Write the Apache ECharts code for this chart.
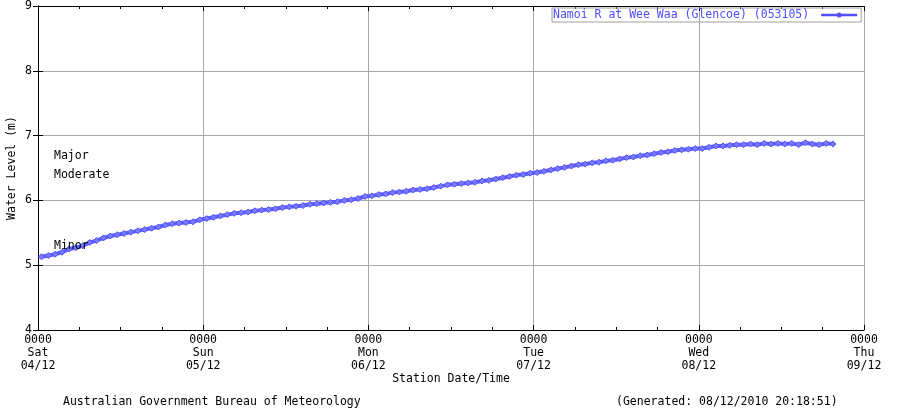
<!DOCTYPE html>
<html>
<head>
<meta charset="utf-8">
<script src="https://cdn.jsdelivr.net/npm/echarts@6/dist/echarts.min.js"></script>
<style>html,body{margin:0;padding:0;background:#fff;}#c{width:904px;height:408px;}</style>
</head>
<body>
<div id="c"></div>
<script>
// ---- data ----
const seriesName = 'Namoi R at Wee Waa (Glencoe) (053105)';
const tickTimes = ['0000','0000','0000','0000','0000','0000'];
const tickDays = ['Sat','Sun','Mon','Tue','Wed','Thu'];
const tickDates = ['04/12','05/12','06/12','07/12','08/12','09/12'];
const yTicks = [4,5,6,7,8,9];
const floodNames = ['Major','Moderate','Minor'];
const floodLevels = [6.69, 6.39, 5.30];
const startHour = 0.5;   // hours after Sat 04/12 0000
const stepHours = 1;     // hourly readings
const waterLevel = [
 5.13,5.15,5.17,5.20,5.25,5.27,5.30,5.35,5.38,5.42,5.45,5.47,
 5.49,5.51,5.53,5.55,5.57,5.59,5.62,5.64,5.65,5.66,5.67,5.70,
 5.72,5.74,5.76,5.78,5.80,5.81,5.82,5.84,5.85,5.86,5.87,5.89,
 5.90,5.91,5.92,5.94,5.95,5.96,5.97,5.98,6.00,6.01,6.03,6.06,
 6.07,6.09,6.10,6.12,6.13,6.14,6.16,6.17,6.18,6.20,6.22,6.24,
 6.25,6.26,6.27,6.28,6.30,6.31,6.33,6.35,6.37,6.39,6.40,6.42,
 6.43,6.45,6.47,6.49,6.51,6.53,6.55,6.56,6.58,6.59,6.61,6.62,
 6.64,6.66,6.67,6.69,6.70,6.72,6.74,6.75,6.77,6.78,6.79,6.80,
 6.80,6.82,6.84,6.84,6.85,6.86,6.86,6.87,6.86,6.88,6.87,6.88,
 6.87,6.88,6.86,6.89,6.87,6.86,6.88,6.87
];
const footerLeft = 'Australian Government Bureau of Meteorology';
const footerRight = '(Generated: 08/12/2010 20:18:51)';

// ---- chart ----
const FONT = 'DejaVu Sans Mono';
const FS = 11.5;
const points = waterLevel.map((v, i) => [startHour + i * stepHours, v]);
const chart = echarts.init(document.getElementById('c'), null, {renderer: 'canvas'});
const mirrorX = {
  type: 'value', min: 0, max: 120, interval: 24, position: 'top',
  axisLine: {show: true, lineStyle: {color: '#000', width: 1}},
  axisTick: {show: true, inside: true, length: 5, lineStyle: {color: '#000'}},
  minorTick: {show: true, splitNumber: 4, length: 3, lineStyle: {color: '#000'}},
  axisLabel: {show: false}, splitLine: {show: false}
};
const mirrorY = {
  type: 'value', min: 4, max: 9, interval: 1, position: 'right',
  axisLine: {show: true, lineStyle: {color: '#000', width: 1}},
  axisTick: {show: true, inside: true, length: 5, lineStyle: {color: '#000'}},
  axisLabel: {show: false}, splitLine: {show: false}
};
chart.setOption({
  animation: false,
  backgroundColor: '#fff',
  textStyle: {fontFamily: FONT, fontSize: FS},
  grid: {left: 38, right: 40, top: 6, bottom: 78, containLabel: false, outerBoundsMode: 'none'},
  legend: {
    show: true, left: 552, top: 8,
    align: 'right',
    orient: 'horizontal',
    borderColor: '#a0a0a0', borderWidth: 1, padding: [1, 4, 1, 1],
    itemWidth: 34, itemHeight: 6, itemGap: 0,
    textStyle: {color: '#4d4dff', fontFamily: FONT, fontSize: FS, padding: [0, 8, 0, 0]},
    data: [{name: seriesName, icon: 'path://M0,2.7H34V3.3H0Z M18.5,3A1.5,1.5 0 1,1 15.5,3A1.5,1.5 0 1,1 18.5,3Z'}]
  },
  xAxis: [{
    type: 'value', min: 0, max: 120, interval: 24,
    name: 'Station Date/Time', nameLocation: 'middle', nameGap: 43, nameMoveOverlap: false,
    nameTextStyle: {color: '#000', fontFamily: FONT, fontSize: FS},
    axisLine: {show: true, onZero: false, lineStyle: {color: '#000', width: 1}},
    axisTick: {show: true, inside: true, length: 5, lineStyle: {color: '#000'}},
    minorTick: {show: true, splitNumber: 4, length: 3, lineStyle: {color: '#000'}},
    splitLine: {show: true, lineStyle: {color: '#a8a8a8', width: 1}},
    axisLabel: {
      color: '#000', fontFamily: FONT, fontSize: FS, lineHeight: 13, margin: 4,
      showMinLabel: true, showMaxLabel: true,
      formatter: v => { const i = Math.round(v / 24); return tickTimes[i] + '\n' + tickDays[i] + '\n' + tickDates[i]; }
    }
  }, mirrorX],
  yAxis: [{
    type: 'value', min: 4, max: 9, interval: 1,
    name: 'Water Level (m)', nameLocation: 'middle', nameGap: 20, nameRotate: 90, nameMoveOverlap: false,
    nameTextStyle: {color: '#000', fontFamily: FONT, fontSize: FS},
    axisLine: {show: true, onZero: false, lineStyle: {color: '#000', width: 1}},
    axisTick: {show: true, inside: true, length: 5, lineStyle: {color: '#000'}},
    splitLine: {show: true, lineStyle: {color: '#a8a8a8', width: 1}},
    axisLabel: {color: '#000', fontFamily: FONT, fontSize: FS, margin: 6,
      formatter: v => String(yTicks[yTicks.indexOf(v)])}
  }, mirrorY],
  series: [{
    name: seriesName,
    type: 'line',
    data: points,
    showSymbol: true,
    symbol: 'diamond',
    symbolSize: 6,
    color: '#5555ff',
    lineStyle: {color: '#6060ff', width: 4},
    itemStyle: {color: '#7a7aff', borderColor: '#5050ff', borderWidth: 1},
    z: 3,
    markLine: {
      silent: true, symbol: 'none', animation: false,
      lineStyle: {color: 'rgba(0,0,0,0)', width: 1, type: 'solid'},
      label: {show: true, position: 'insideStart', formatter: '{b}', color: '#000',
        fontFamily: FONT, fontSize: FS, distance: 16, align: 'left'},
      emphasis: {disabled: true},
      data: floodNames.map((n, i) => ({name: n, yAxis: floodLevels[i]}))
    }
  }],
  graphic: [
    {type: 'text', left: 63, top: 396, style: {text: footerLeft, fill: '#000', font: FS + 'px "' + FONT + '"'}},
    {type: 'text', left: 616, top: 396, style: {text: footerRight, fill: '#000', font: FS + 'px "' + FONT + '"'}}
  ]
});
</script>
</body>
</html>
